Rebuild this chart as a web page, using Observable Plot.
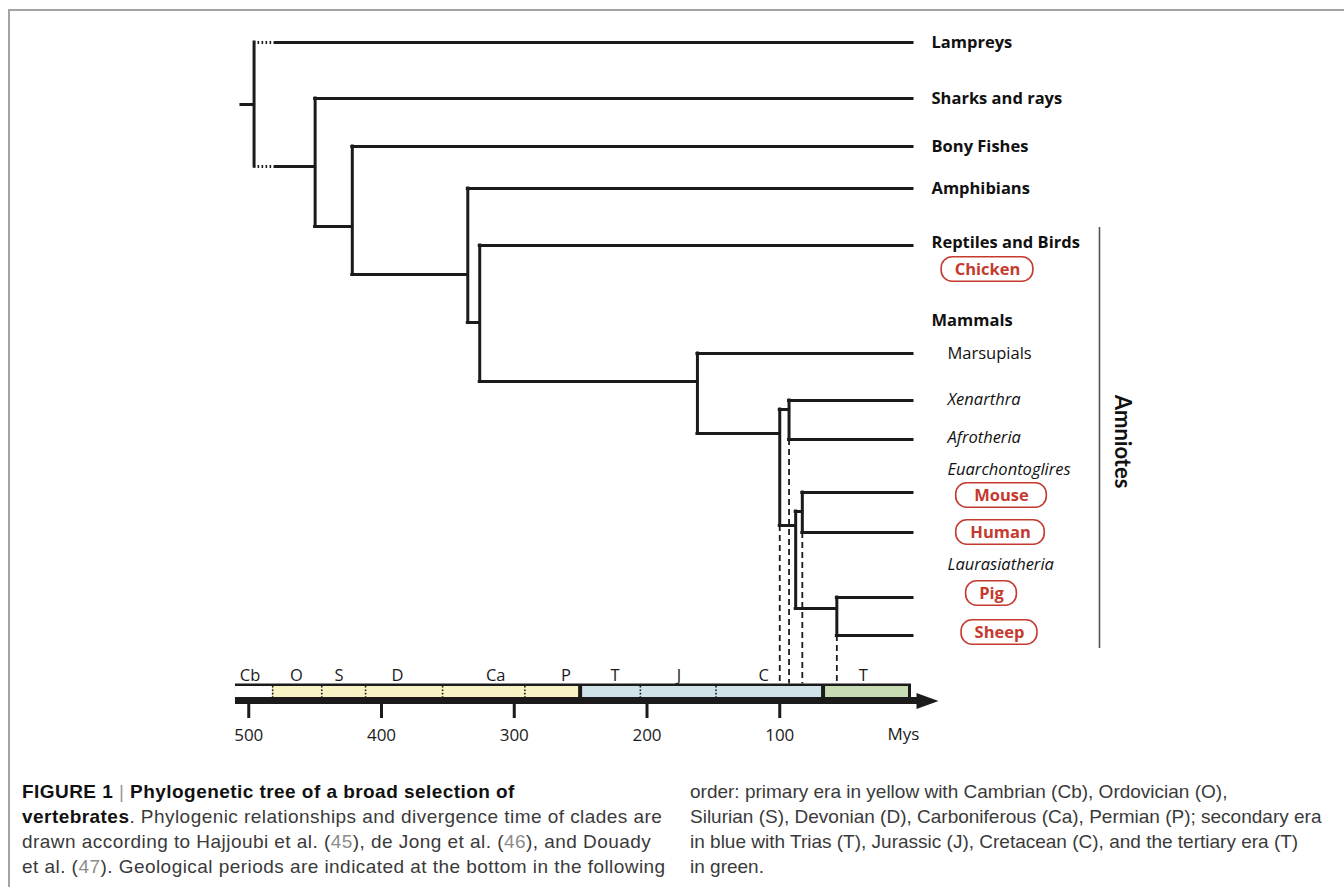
<!DOCTYPE html>
<html>
<head>
<meta charset="utf-8">
<script src="https://cdn.jsdelivr.net/npm/d3@7"></script>
<script src="https://cdn.jsdelivr.net/npm/@observablehq/plot@0.6"></script>
<style>
  html, body { margin: 0; padding: 0; background: #fff; }
  body { width: 1344px; height: 887px; position: relative; overflow: hidden; }
  #frame { position: absolute; left: 8px; top: 9px; right: 0; bottom: 0;
           border-top: 2px solid #a3a3a3; border-left: 2px solid #a3a3a3; pointer-events: none; }
  #chart { position: absolute; left: 0; top: 0; }
  .col { position: absolute; top: 779px; font-family: "Liberation Sans", Arial, sans-serif;
         font-size: 19px; line-height: 25px; color: #3a3a3a; white-space: nowrap; }
  .col b { color: #111; }
  .sep { color: #999; font-weight: normal; }
  .ref { color: #8c8c8c; }
</style>
</head>
<body>
<div id="chart"></div>
<div class="col" style="left:22px; letter-spacing:0.45px">
  <b>FIGURE 1</b> <span class="sep">|</span> <b>Phylogenetic tree of a broad selection of</b><br>
  <b>vertebrates</b>. Phylogenic relationships and divergence time of clades are<br>
  drawn according to Hajjoubi et al. (<span class="ref">45</span>), de Jong et al. (<span class="ref">46</span>), and Douady<br>
  et al. (<span class="ref">47</span>). Geological periods are indicated at the bottom in the following
</div>
<div class="col" style="left:690px">
  order: primary era in yellow with Cambrian (Cb), Ordovician (O),<br>
  Silurian (S), Devonian (D), Carboniferous (Ca), Permian (P); secondary era<br>
  in blue with Trias (T), Jurassic (J), Cretacean (C), and the tertiary era (T)<br>
  in green.
</div>
<div id="frame"></div>
<script>
// ---------------- DATA ----------------
// Tips (extant clades): name, parent node, vertical row slot
const tipNames  = ["Lampreys","Sharks and rays","Bony Fishes","Amphibians","Reptiles and Birds","Marsupials","Xenarthra","Afrotheria","Mouse","Human","Pig","Sheep"];
const tipParent = ["root","gnathostomes","osteichthyes","tetrapods","amniotes","mammals","atlantogenata","atlantogenata","euarchontoglires","euarchontoglires","laurasiatheria","laurasiatheria"];
const tipRow    = [4.2, 9.8, 14.6, 18.8, 24.5, 35.3, 40.0, 43.9, 49.2, 53.2, 59.7, 63.5];
const tipTime   = [0,0,0,0,0,0,0,0,0,0,0,0];

// Internal nodes: divergence time (Mys) and row of the stem entering them
const nodeIds    = ["root","gnathostomes","osteichthyes","tetrapods","amniotes","mammals","placentals","atlantogenata","boreoeutheria","euarchontoglires","laurasiatheria"];
const nodeParent = [null,"root","gnathostomes","osteichthyes","tetrapods","amniotes","mammals","placentals","placentals","boreoeutheria","boreoeutheria"];
const nodeTime   = [496, 450, 422, 335, 326, 162, 100, 93, 88, 83, 57];
const nodeRow    = [10.4, 16.6, 22.6, 27.4, 32.2, 38.1, 43.3, 40.9, 52.5, 51.1, 60.8];
const rootStubStart = 505.5;

// Branches whose oldest part is uncertain (dotted) until the given time
const uncertainChild = ["Lampreys","gnathostomes"];
const uncertainUntil = [479, 479];

// Nodes whose dating is projected onto the time axis (dashed)
const projectedNodes = ["placentals","atlantogenata","euarchontoglires","laurasiatheria"];

// Labels
const labelText = ["Lampreys","Sharks and rays","Bony Fishes","Amphibians","Reptiles and Birds","Chicken","Mammals","Marsupials","Xenarthra","Afrotheria","Euarchontoglires","Mouse","Human","Laurasiatheria","Pig","Sheep"];
const labelRow  = [4.2, 9.8, 14.6, 18.8, 24.2, 26.9, 32.0, 35.3, 39.9, 43.7, 46.9, 49.5, 53.2, 56.4, 59.3, 63.2];
const labelKind = ["clade","clade","clade","clade","clade","model","clade","group","superorder","superorder","superorder","model","model","superorder","model","model"];

// Geological periods (Mys)
const periodCode    = ["Cb","O","S","D","Ca","P","T","J","C","T"];
const periodStart   = [510, 482, 445, 412, 354, 292, 250, 205, 148, 67];
const periodEnd     = [482, 445, 412, 354, 292, 250, 205, 148, 67, 0];
const periodLabelAt = [499, 464, 432, 388, 314, 261, 224, 176, 112, 37];
const eraName  = ["none","primary","secondary","tertiary"];
const eraStart = [510, 482, 250, 67];
const eraEnd   = [482, 250, 67, 0];
const eraColor = ["#ffffff","#f7f3c4","#cfe3e8","#c7dcb2"];

const tickValues = [500, 400, 300, 200, 100];
const cladeBracket = "Amniotes";
const axisUnit = "Mys";

// ---------------- BUILD ----------------
const ink = "#1b1b1b";
const red = "#c53a2f";
const labelFont = "'Open Sans', Lato, sans-serif";
const labelSize = 16.5;
const xDomain = [500, 0], xRange = [248.25, 912];
const toTime = d3.scaleLinear(xDomain, xRange).invert;

const all = new Map();
nodeIds.forEach((id, i) => all.set(id, {id, time: nodeTime[i], row: nodeRow[i], parent: nodeParent[i], internal: true}));
tipNames.forEach((id, i) => all.set(id, {id, time: tipTime[i], row: tipRow[i], parent: tipParent[i], internal: false}));

const solid = [], dotted = [], verticals = [];
const root = all.get("root");
solid.push({y: root.row, x1: rootStubStart, x2: root.time});
for (const d of all.values()) {
  if (!d.parent) continue;
  const p = all.get(d.parent);
  const u = uncertainChild.indexOf(d.id);
  if (u >= 0) {
    dotted.push({y: d.row, x1: p.time, x2: uncertainUntil[u]});
    solid.push({y: d.row, x1: uncertainUntil[u], x2: d.time});
  } else {
    solid.push({y: d.row, x1: p.time, x2: d.time});
  }
}
const childRows = new Map();
for (const d of all.values()) if (d.parent) {
  if (!childRows.has(d.parent)) childRows.set(d.parent, []);
  childRows.get(d.parent).push(d.row);
}
for (const [id, rows] of childRows) verticals.push({x: all.get(id).time, y1: d3.min(rows), y2: d3.max(rows)});

const bandTop = 68.35, fillTop = 68.6, fillBottom = 69.7, barBottom = 70.4;
const projections = projectedNodes.map(id => ({x: all.get(id).time, y1: d3.max(childRows.get(id)), y2: bandTop}));

const periods = periodCode.map((c, i) => ({code: c, start: periodStart[i], end: periodEnd[i], at: periodLabelAt[i]}));
const eras = eraName.map((n, i) => ({name: n, start: eraStart[i], end: eraEnd[i], color: eraColor[i]}));
const eraBounds = new Set([eraStart[0], ...eraStart.slice(2)]);
const dividers = periods.filter(p => !eraBounds.has(p.start)).map(p => p.start);

const labels = labelText.map((t, i) => ({text: t, row: labelRow[i], kind: labelKind[i]}));
const pillCenter = {Chicken: 75, Mouse: 89, Human: 88, Pig: 79, Sheep: 87};
const pillPad = {Chicken: 26, Mouse: 36, Human: 28, Pig: 26, Sheep: 26};
const canvas = document.createElement("canvas").getContext("2d");
canvas.font = `bold ${labelSize}px 'Open Sans'`;
const pills = labels.filter(l => l.kind === "model").map(l => {
  const w = canvas.measureText(l.text).width + pillPad[l.text];
  const c = 912 + pillCenter[l.text];
  return {text: l.text, row: l.row, x1: toTime(c - w / 2), x2: toTime(c + w / 2), xc: toTime(c)};
});

const amnioteRows = tipRow.slice(4);
const bracket = [{y1: d3.min(amnioteRows) - 1.8, y2: d3.max(amnioteRows) + 1.3, mid: (d3.min(amnioteRows) + d3.max(amnioteRows)) / 2 + 0.1}];

const arrowHead = {draw(ctx) { ctx.moveTo(-11, -8); ctx.lineTo(11, 0); ctx.lineTo(-11, 8); ctx.closePath(); }};

const plot = Plot.plot({
  width: 1344,
  height: 770,
  marginTop: 0, marginBottom: 66, marginLeft: 0, marginRight: 0,
  style: {fontFamily: labelFont, fontSize: "17px", color: ink, background: "transparent"},
  x: {domain: xDomain, range: xRange, axis: null},
  y: {domain: [0, barBottom], range: [0, 704], axis: null},
  marks: [
    // timeline band
    Plot.rect([{s: 510, e: 0}], {x1: "s", x2: "e", y1: bandTop, y2: fillBottom, fill: ink, insetRight: 1}),
    Plot.rect([{s: 510, e: 0}], {x1: "s", x2: "e", y1: fillBottom, y2: barBottom, fill: ink, insetRight: -7}),
    Plot.rect(eras.filter(e => e.name === "none"), {x1: "start", x2: "end", y1: fillTop, y2: fillBottom, fill: "color"}),
    Plot.rect(eras.filter(e => e.name === "primary"), {x1: "start", x2: "end", y1: fillTop, y2: fillBottom, fill: "color", insetRight: 2}),
    Plot.rect(eras.filter(e => e.name === "secondary"), {x1: "start", x2: "end", y1: fillTop, y2: fillBottom, fill: "color", insetLeft: 2, insetRight: 2}),
    Plot.rect(eras.filter(e => e.name === "tertiary"), {x1: "start", x2: "end", y1: fillTop, y2: fillBottom, fill: "color", insetLeft: 2, insetRight: 4}),
    Plot.ruleX(dividers, {x: d => d, y1: fillTop, y2: fillBottom, stroke: ink, strokeWidth: 1.6, strokeDasharray: "1.6,1.8"}),
    Plot.dot([0], {x: d => d, y: (fillBottom + barBottom) / 2, dx: 15, symbol: arrowHead, fill: ink, stroke: "none"}),
    Plot.text(periods, {x: "at", y: 67.5, text: "code", fontSize: 16.5, fill: ink}),
    Plot.axisX({ticks: tickValues, tickSize: 14, tickPadding: 10, strokeWidth: 3, stroke: ink, fill: ink, fontSize: 17, tickFormat: d => String(d), label: null}),
    Plot.text([axisUnit], {x: 0, dx: -9, y: 73.4, text: d => d, fontSize: 17, fill: ink}),
    // projections of dated nodes
    Plot.ruleX(projections, {x: "x", y1: "y1", y2: "y2", stroke: ink, strokeWidth: 1.8, strokeDasharray: "6,4"}),
    // tree
    Plot.ruleY(dotted, {y: "y", x1: "x1", x2: "x2", stroke: ink, strokeWidth: 3, strokeDasharray: "1.6,2.4"}),
    Plot.ruleY(solid, {y: "y", x1: "x1", x2: "x2", stroke: ink, strokeWidth: 3, strokeLinecap: "square"}),
    Plot.ruleX(verticals, {x: "x", y1: "y1", y2: "y2", stroke: ink, strokeWidth: 3, strokeLinecap: "square"}),
    // labels
    Plot.text(labels.filter(l => l.kind === "clade"), {x: 0, dx: 19, y: "row", text: "text", textAnchor: "start", fontWeight: "bold", fontSize: labelSize, fill: "#111"}),
    Plot.text(labels.filter(l => l.kind === "group"), {x: 0, dx: 35, y: "row", text: "text", textAnchor: "start", fontSize: labelSize, fill: "#111"}),
    Plot.text(labels.filter(l => l.kind === "superorder"), {x: 0, dx: 35, y: "row", text: "text", textAnchor: "start", fontStyle: "italic", fontSize: labelSize, fill: "#111"}),
    Plot.rect(pills, {x1: "x1", x2: "x2", y1: d => d.row - 1.22, y2: d => d.row + 1.22, fill: "white", stroke: red, strokeWidth: 1.6, rx: 11}),
    Plot.text(pills, {x: "xc", y: "row", text: "text", fontWeight: "bold", fontSize: labelSize, fill: red, textAnchor: "middle"}),
    // amniote bracket
    Plot.ruleX(bracket, {x: 0, dx: 187, y1: "y1", y2: "y2", stroke: "#555", strokeWidth: 1.6}),
    Plot.text(bracket, {x: 0, dx: 210, y: "mid", text: () => cladeBracket, rotate: 90, fontFamily: "Lato", fontWeight: "bold", fontSize: 22, fill: "#111"})
  ]
});
document.getElementById("chart").append(plot);
</script>
</body>
</html>
